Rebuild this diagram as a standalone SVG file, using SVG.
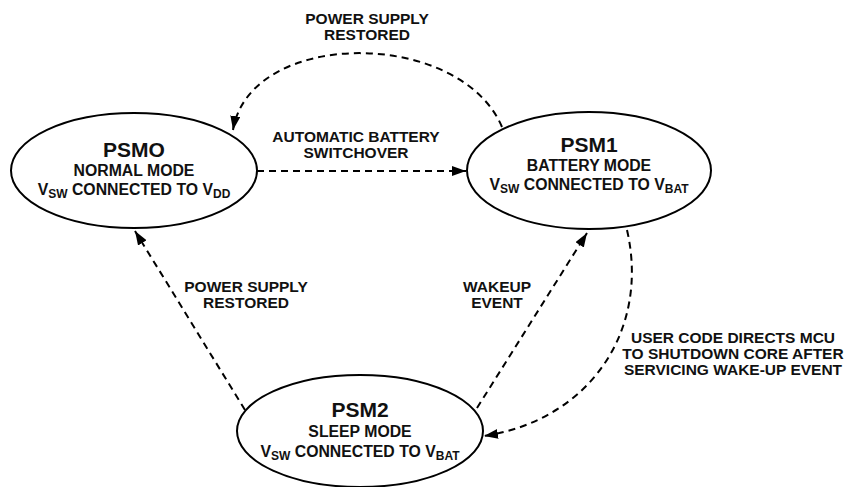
<svg xmlns="http://www.w3.org/2000/svg" width="849" height="487" viewBox="0 0 849 487">
<style>
  .node { fill: #ffffff; stroke: #000000; stroke-width: 2; }
  .conn { fill: none; stroke: #000000; stroke-width: 2; stroke-dasharray: 7 5; }
  text { font-family: "Liberation Sans", Arial, Helvetica, sans-serif; font-weight: bold; fill: #111111; text-anchor: middle; }
  .title { font-size: 21px; }
  .sub { font-size: 15.8px; }
  .lbl { font-size: 15.5px; }
  .s { font-size: 12px; }
</style>
<defs>
  <marker id="arrow" markerUnits="userSpaceOnUse" markerWidth="16" markerHeight="12" refX="14" refY="5" orient="auto">
    <path d="M0,0 L14,5 L0,10 Z" fill="#000000"/>
  </marker>
</defs>
<rect width="849" height="487" fill="#ffffff"/>
<g id="connectors">
  <path class="conn" d="M502,127 C460,28 250,28 233,130" marker-end="url(#arrow)"/>
  <path class="conn" d="M257,171 L466,171" marker-end="url(#arrow)"/>
  <path class="conn" d="M245,410 L135,231" marker-end="url(#arrow)"/>
  <path class="conn" d="M477,408 L587,233" marker-end="url(#arrow)"/>
  <path class="conn" d="M627,230 C650,330 590,420 484,436" marker-end="url(#arrow)"/>
</g>
<g id="labels">
  <text class="lbl" x="367" y="24">POWER SUPPLY</text>
  <text class="lbl" x="367" y="40">RESTORED</text>
  <text class="lbl" x="356" y="142">AUTOMATIC BATTERY</text>
  <text class="lbl" x="356" y="158">SWITCHOVER</text>
  <text class="lbl" x="246" y="292">POWER SUPPLY</text>
  <text class="lbl" x="246" y="308">RESTORED</text>
  <text class="lbl" x="497" y="292">WAKEUP</text>
  <text class="lbl" x="497" y="308">EVENT</text>
  <text class="lbl" x="733" y="343">USER CODE DIRECTS MCU</text>
  <text class="lbl" x="733" y="359">TO SHUTDOWN CORE AFTER</text>
  <text class="lbl" x="733" y="375">SERVICING WAKE-UP EVENT</text>
</g>
<g id="psm0">
  <ellipse class="node" cx="134" cy="170.5" rx="123" ry="57.5"/>
  <text class="title" x="134" y="157">PSMO</text>
  <text class="sub" x="134" y="176">NORMAL MODE</text>
  <text class="sub" x="134" y="195">V<tspan class="s" dy="3">SW</tspan><tspan dy="-3"> CONNECTED TO V</tspan><tspan class="s" dy="3">DD</tspan></text>
</g>
<g id="psm1">
  <ellipse class="node" cx="589" cy="170.5" rx="122" ry="58.5"/>
  <text class="title" x="589" y="152">PSM1</text>
  <text class="sub" x="589" y="171">BATTERY MODE</text>
  <text class="sub" x="589" y="190">V<tspan class="s" dy="3">SW</tspan><tspan dy="-3"> CONNECTED TO V</tspan><tspan class="s" dy="3">BAT</tspan></text>
</g>
<g id="psm2">
  <ellipse class="node" cx="360" cy="431" rx="123" ry="56"/>
  <text class="title" x="360" y="417">PSM2</text>
  <text class="sub" x="360" y="437">SLEEP MODE</text>
  <text class="sub" x="360" y="457">V<tspan class="s" dy="3">SW</tspan><tspan dy="-3"> CONNECTED TO V</tspan><tspan class="s" dy="3">BAT</tspan></text>
</g>
</svg>
